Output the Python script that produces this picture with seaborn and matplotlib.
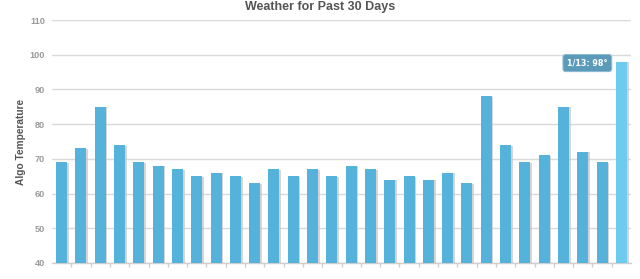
import matplotlib
matplotlib.use("Agg")
import matplotlib.pyplot as plt
import matplotlib.patheffects as pe
import seaborn as sns
import pandas as pd

dates = ["12/15", "12/16", "12/17", "12/18", "12/19", "12/20", "12/21", "12/22",
         "12/23", "12/24", "12/25", "12/26", "12/27", "12/28", "12/29", "12/30",
         "12/31", "1/1", "1/2", "1/3", "1/4", "1/5", "1/6", "1/7", "1/8", "1/9",
         "1/10", "1/11", "1/12", "1/13"]
temps = [69, 73, 85, 74, 69, 68, 67, 65, 66, 65,
         63, 67, 65, 67, 65, 68, 67, 64, 65, 64,
         66, 63, 88, 74, 69, 71, 85, 72, 69, 98]
y_ticks = [40, 50, 60, 70, 80, 90, 100, 110]
title = "Weather for Past 30 Days"
ylabel = "Algo Temperature"
highlight = "1/13"

base_color = "#55b2da"
hi_color = "#6dcbf0"

df = pd.DataFrame({"date": dates, "temp": temps})
palette = {d: (hi_color if d == highlight else base_color) for d in dates}

sns.set_style("white")
plt.rcParams["font.family"] = ["Liberation Sans", "DejaVu Sans"]

fig = plt.figure(figsize=(6.4, 2.79), dpi=100)
ax = fig.add_axes([52 / 640, 1 - 263 / 279, (631 - 52) / 640, (263 - 20) / 279])

sns.barplot(data=df, x="date", y="temp", hue="date", palette=palette,
            legend=False, width=0.57, ax=ax, saturation=1, zorder=3)

for p in ax.patches:
    p.set_edgecolor("none")
    p.set_linewidth(0)
    p.set_path_effects([pe.SimplePatchShadow(offset=(1.2, -0.4),
                                             shadow_rgbFace="#c4c4c4", alpha=0.7),
                        pe.Normal()])

ax.set_ylim(40, 110)
ax.set_xlim(-0.5, len(dates) - 0.5)
ax.set_yticks(y_ticks)
ax.set_yticklabels([str(t) for t in y_ticks], color="#9a9a9a",
                   fontsize=6.6, fontweight="bold")
ax.grid(axis="y", color="#d9d9d9", linewidth=1, zorder=0)
ax.set_axisbelow(True)

ax.set_xticks([i + 0.5 for i in range(len(dates) - 1)])
ax.set_xticklabels([])
ax.tick_params(axis="x", bottom=True, length=3, color="#cfcfcf", width=1,
               direction="out")
ax.tick_params(axis="y", left=False, length=0, pad=5)

for s in ["top", "right", "left"]:
    ax.spines[s].set_visible(False)
ax.spines["bottom"].set_color("#cfcfcf")
ax.spines["bottom"].set_linewidth(1)

ax.set_xlabel("")
ax.set_ylabel(ylabel, fontsize=7.3, fontweight="bold", color="#555555")
ax.yaxis.set_label_coords(-26 / 579, 0.5)
fig.text(0.5, 1 - 7 / 279, title, ha="center", va="center", fontsize=9,
         fontweight="bold", color="#555555")

idx = dates.index(highlight)
ax.annotate(f"{highlight}: {temps[idx]}°", xy=(idx, temps[idx]),
            xytext=(-24.5, -1), textcoords="offset points",
            ha="center", va="center", fontsize=5.8, fontweight="bold",
            color="white", zorder=5, family="DejaVu Sans",
            bbox=dict(boxstyle="round,pad=0.5,rounding_size=0.35",
                      fc="#5b9bb9", ec="#8ab9cf", lw=0.8))

fig.savefig("out.png", dpi=100)
